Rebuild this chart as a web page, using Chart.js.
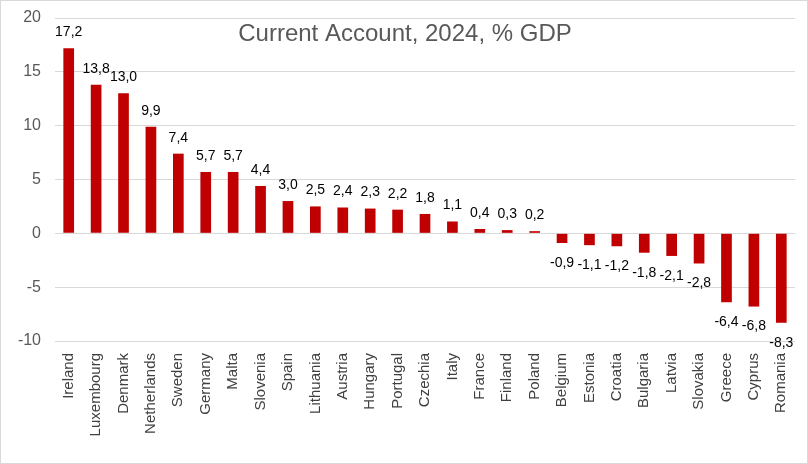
<!DOCTYPE html>
<html>
<head>
<meta charset="utf-8">
<script src="https://cdn.jsdelivr.net/npm/chart.js@4"></script>
<style>
  html, body { margin: 0; padding: 0; background: #fff; }
  #wrap { width: 806px; height: 462px; border: 1px solid #d9d9d9; position: relative; }
</style>
</head>
<body>
<div id="wrap"><canvas id="chart" width="806" height="462"></canvas></div>
<script>
// Data
const countries = ['Ireland', 'Luxembourg', 'Denmark', 'Netherlands', 'Sweden', 'Germany', 'Malta',
    'Slovenia', 'Spain', 'Lithuania', 'Austria', 'Hungary', 'Portugal', 'Czechia', 'Italy', 'France',
    'Finland', 'Poland', 'Belgium', 'Estonia', 'Croatia', 'Bulgaria', 'Latvia', 'Slovakia', 'Greece',
    'Cyprus', 'Romania'];
const currentAccount = [17.2, 13.8, 13.0, 9.9, 7.4, 5.7, 5.7, 4.4, 3.0, 2.5, 2.4, 2.3, 2.2, 1.8, 1.1,
    0.4, 0.3, 0.2, -0.9, -1.1, -1.2, -1.8, -2.1, -2.8, -6.4, -6.8, -8.3];
const yTicks = [20, 15, 10, 5, 0, -5, -10];
const chartTitle = 'Current Account, 2024, % GDP';

const fontFamily = '"Liberation Sans", Arial, sans-serif';

// Value labels with comma decimal separator
const valueLabels = {
    id: 'valueLabels',
    afterDatasetsDraw(chart) {
        const ctx = chart.ctx;
        const meta = chart.getDatasetMeta(0);
        ctx.save();
        ctx.font = '14px ' + fontFamily;
        ctx.fillStyle = '#000';
        ctx.textAlign = 'center';
        ctx.textBaseline = 'middle';
        meta.data.forEach((bar, i) => {
            const v = currentAccount[i];
            const txt = v.toFixed(1).replace('.', ',');
            const y = v >= 0 ? bar.y - 16 : bar.y + 20;
            ctx.fillText(txt, bar.x, y);
        });
        ctx.restore();
    }
};

// Title drawn over the plot area, as in the reference
const overTitle = {
    id: 'overTitle',
    afterDraw(chart) {
        const ctx = chart.ctx;
        ctx.save();
        ctx.font = '24px ' + fontFamily;
        ctx.fillStyle = '#595959';
        ctx.textAlign = 'center';
        ctx.textBaseline = 'middle';
        ctx.fillText(chartTitle, 404, 33);
        ctx.restore();
    }
};

new Chart(document.getElementById('chart').getContext('2d'), {
    type: 'bar',
    data: {
        labels: countries,
        datasets: [{
            data: currentAccount,
            backgroundColor: '#C00000',
            barPercentage: 0.39,
            categoryPercentage: 1
        }]
    },
    options: {
        responsive: false,
        animation: false,
        layout: { padding: { top: 17, right: 12, left: 0, bottom: 0 } },
        plugins: {
            legend: { display: false },
            tooltip: { enabled: false },
            title: { display: false }
        },
        scales: {
            x: {
                grid: { display: false },
                border: { display: false },
                ticks: {
                    minRotation: 90,
                    maxRotation: 90,
                    autoSkip: false,
                    padding: 4,
                    color: '#404040',
                    font: { family: fontFamily, size: 15 }
                },
                afterFit(scale) {
                    scale.height = 122;
                    scale.paddingLeft = 0;
                    scale.paddingRight = 0;
                }
            },
            y: {
                min: -10,
                max: 20,
                afterBuildTicks(scale) { scale.ticks = yTicks.map(v => ({ value: v })); },
                grid: { color: '#d9d9d9', lineWidth: 1, drawTicks: false },
                border: { display: false },
                ticks: {
                    padding: 14,
                    color: '#595959',
                    font: { family: fontFamily, size: 16 }
                },
                afterFit(scale) {
                    scale.width = 54;
                    scale.paddingTop = 0;
                    scale.paddingBottom = 0;
                }
            }
        }
    },
    plugins: [valueLabels, overTitle]
});
</script>
</body>
</html>
